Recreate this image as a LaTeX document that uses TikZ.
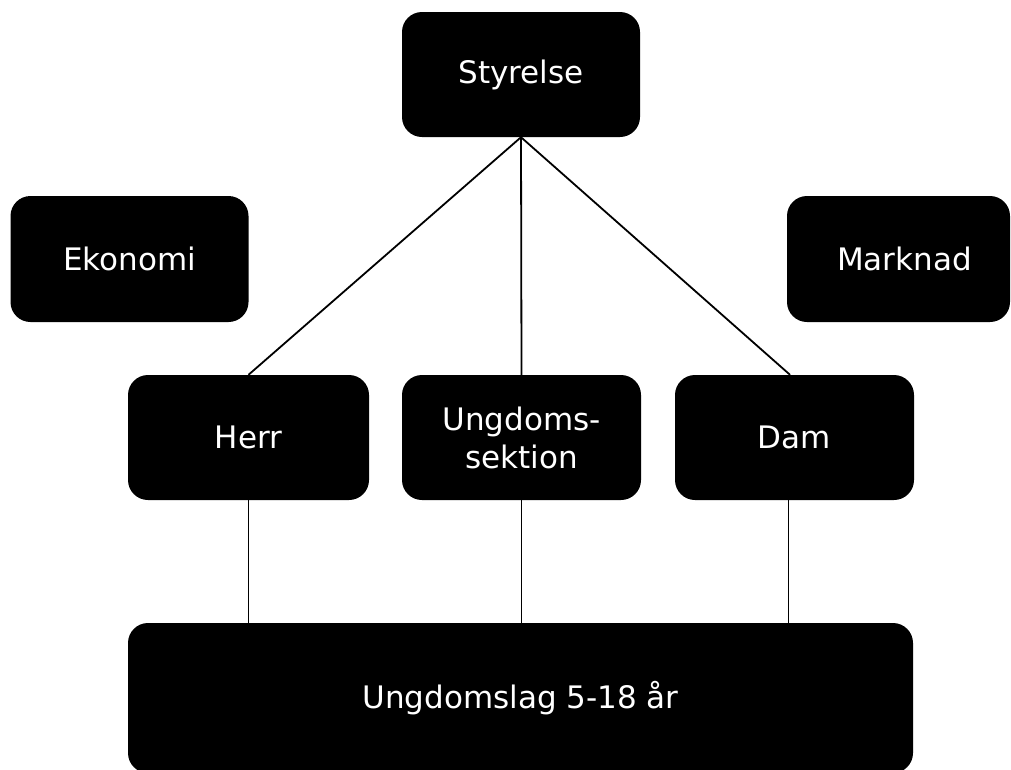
\documentclass[tikz,border=0pt]{standalone}
\usepackage{fontspec}
\setmainfont{DejaVu Sans}
\begin{document}
\begin{tikzpicture}[x=1pt,y=-1pt,
  box/.style={fill=black, draw=none, rounded corners=20pt, text=white,
    font=\fontsize{31}{38}\selectfont, align=center, inner sep=0pt},
  conn/.style={draw=black, line width=1.8pt}]
\useasboundingbox (0,0) rectangle (1011,769);
\node[box, minimum width=238pt, minimum height=125pt] (sty) at (521,74.5) {Styrelse};
\node[box, minimum width=238pt, minimum height=126pt] (eko) at (129.5,259) {Ekonomi};
\node[box, minimum width=223pt, minimum height=126pt] (mark) at (898.5,259) {\hspace*{12pt}Marknad};
\node[box, minimum width=241pt, minimum height=125pt] (herr) at (248.5,437.5) {Herr};
\node[box, minimum width=239pt, minimum height=125pt] (ungs) at (521.5,437.5) {Ungdoms-\\sektion};
\node[box, minimum width=239pt, minimum height=125pt] (dam) at (794.5,437.5) {Dam};
\node[box, minimum width=785pt, minimum height=150pt] (lag) at (520.5,698) {Ungdomslag 5-18 år};
\draw[conn] (sty.south) -- (herr.north);
\draw[conn] (sty.south) -- (ungs.north);
\draw[conn] (sty.south) -- ([xshift=-4.5pt]dam.north);
\draw[conn] (herr.south) -- (herr.south |- lag.north);
\draw[conn] (ungs.south) -- (ungs.south |- lag.north);
\draw[conn] ([xshift=-6pt]dam.south) -- ([xshift=-6pt]dam.south |- lag.north);
\end{tikzpicture}
\end{document}
